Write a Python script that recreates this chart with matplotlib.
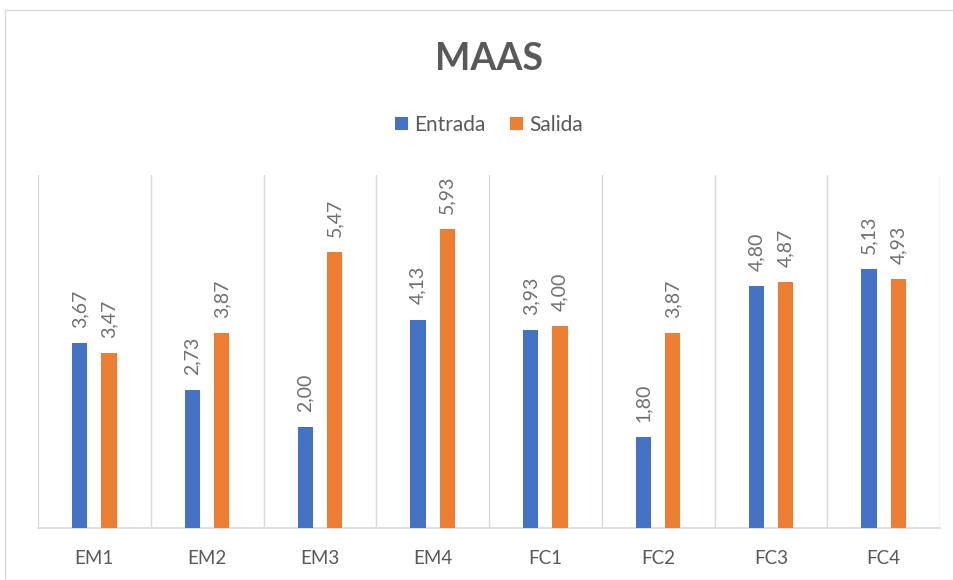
import matplotlib
matplotlib.use("Agg")
import matplotlib.pyplot as plt
import numpy as np
from matplotlib.patches import Rectangle

categories = ["EM1", "EM2", "EM3", "EM4", "FC1", "FC2", "FC3", "FC4"]
entrada = [3.67, 2.73, 2.00, 4.13, 3.93, 1.80, 4.80, 5.13]
salida = [3.47, 3.87, 5.47, 5.93, 4.00, 3.87, 4.87, 4.93]
series_names = ["Entrada", "Salida"]
colors = ["#4472C4", "#ED7D31"]

plt.rcParams['font.family'] = ['Lato', 'DejaVu Sans']
text_color = "#595959"
label_color = "#6F6F6F"

fig = plt.figure(figsize=(9.54, 5.80), dpi=100)
fig.patches.append(Rectangle((5/954, 0), 1, 1 - 10/580, transform=fig.transFigure,
                             fill=False, edgecolor="#D9D9D9", linewidth=1.0))
ax = fig.add_axes([38/954, 52/580, 902/954, 353/580])

x = np.arange(len(categories))
w = 0.135
off = 0.13
b1 = ax.bar(x - off, entrada, w, color=colors[0], label=series_names[0], zorder=3)
b2 = ax.bar(x + off, salida, w, color=colors[1], label=series_names[1], zorder=3)

def fmt(v):
    return f"{v:.2f}".replace(".", ",")

for bars, vals in [(b1, entrada), (b2, salida)]:
    for rect, v in zip(bars, vals):
        ax.annotate(fmt(v), (rect.get_x() + rect.get_width() / 2, rect.get_height()),
                    xytext=(0, 11), textcoords="offset points", rotation=90,
                    ha="center", va="bottom", fontsize=14, color=label_color)

ax.set_xlim(-0.5, len(categories) - 0.5)
ax.set_ylim(0, 7)
ax.set_yticks([])
ax.set_xticks(x)
ax.set_xticklabels(categories, fontsize=13.5, color=text_color)
ax.tick_params(axis="x", length=0, pad=16)
for b in np.arange(-0.5, len(categories), 1.0):
    ax.axvline(b, color="#D9D9D9", linewidth=1.0, zorder=1)
for s in ["top", "left", "right"]:
    ax.spines[s].set_visible(False)
ax.spines["bottom"].set_color("#D9D9D9")
ax.spines["bottom"].set_linewidth(1.2)

fig.text(489/954, 1 - 59/580, "MAAS", ha="center", va="center", fontsize=27,
         fontweight="bold", color=text_color)
leg = fig.legend(handles=[b1, b2], labels=series_names, loc="center",
                 bbox_to_anchor=(489/954, 1 - 125/580), ncol=2, frameon=False,
                 fontsize=15, handlelength=0.6, handleheight=0.6, columnspacing=1.2,
                 handletextpad=0.3)
for t in leg.get_texts():
    t.set_color(text_color)

fig.savefig("out.png", dpi=100)
